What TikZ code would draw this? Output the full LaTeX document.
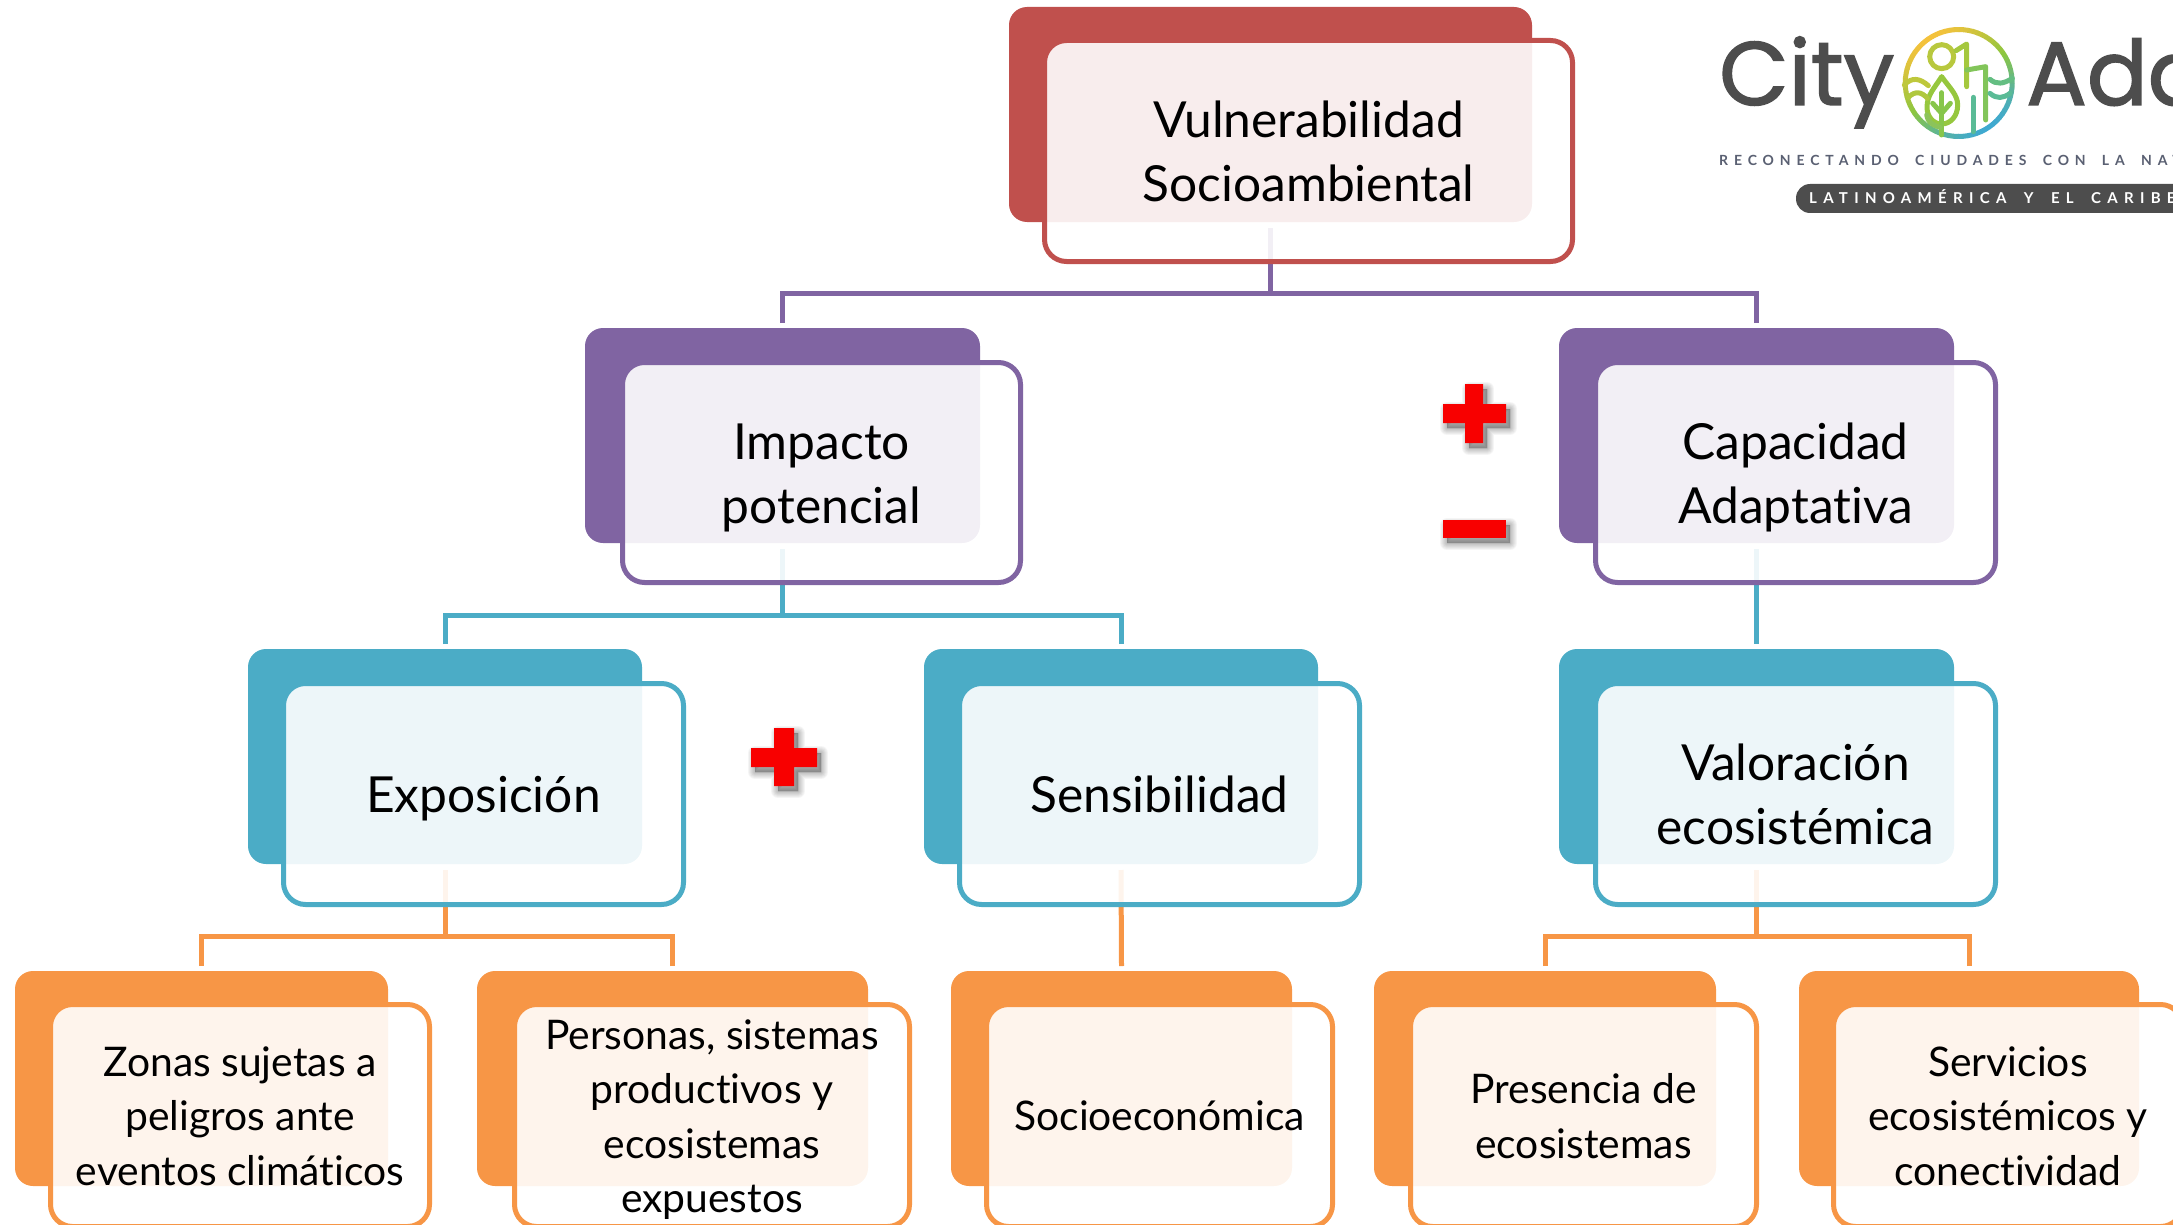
\documentclass[tikz,border=0pt]{standalone}
\usepackage{fontspec}
\setmainfont[Ligatures=NoCommon]{Lato}
\newfontfamily\cityfont[FakeBold=1.6]{Poppins}
\newfontfamily\tagfont[LetterSpace=42,WordSpace=1.75]{Lato Bold}
\usetikzlibrary{calc}
\pgfdeclarelayer{bg}
\pgfsetlayers{bg,main}
\definecolor{cardred}{HTML}{C0504D}
\definecolor{cardpurple}{HTML}{8064A2}
\definecolor{cardteal}{HTML}{4BACC6}
\definecolor{cardorange}{HTML}{F79646}
\definecolor{logogrey}{HTML}{4D4D4D}
\definecolor{tagline}{HTML}{5A6072}
\definecolor{ringyellow}{HTML}{F4C23C}
\definecolor{ringgreen}{HTML}{8CC63F}
\definecolor{ringblue}{HTML}{3FA9D0}
\definecolor{signred}{HTML}{F80000}
\definecolor{emhead}{RGB}{184,200,62}
\definecolor{embuildA}{RGB}{165,200,62}
\definecolor{embuildB}{RGB}{130,197,90}
\definecolor{embuildC}{RGB}{90,187,150}
\definecolor{emleaf}{RGB}{150,199,62}
\definecolor{emtrunk}{RGB}{135,198,75}
\definecolor{emwaveA}{RGB}{190,200,60}
\definecolor{emwaveB}{RGB}{175,200,62}
\definecolor{emarc}{RGB}{140,195,90}
\definecolor{emwaveC}{RGB}{100,190,130}
\tikzset{
  backcard/.style={rectangle,rounded corners=18pt,inner sep=0pt,outer sep=0pt},
  frontcard/.style={rectangle,rounded corners=22pt,line width=5pt,fill=white,fill opacity=0.9,inner sep=0pt,outer sep=0pt},
  bigtext/.style={align=center,inner sep=0pt,text=black,font=\fontsize{49.7}{64}\selectfont},
  smalltext/.style={align=center,inner sep=0pt,text=black,font=\fontsize{40.8}{54.5}\selectfont},
  link/.style={draw=#1,line width=5pt},
  signfill/.style={fill=signred},
  signshade/.style={draw=black,fill=black,opacity=0.04,line join=round,line width=#1},
  logoline/.style={line width=5pt,line cap=round,line join=round,draw=#1},
}
\newcommand{\rowspec}[6]{\def\dyT{#1}\def\dyB{#2}\def\oyT{#3}\def\oyB{#4}\def\tyC{#5}\def\cardfont{#6}}
\newcommand{\cardnode}[7]{%
  \node[backcard,fill=#2,minimum width={(#4-#3)*1pt},minimum height={(\dyB-\dyT)*1pt}] (#1D) at ({(#3+#4)/2},{(\dyT+\dyB)/2}) {};
  \node[frontcard,draw=#2,minimum width={(#6-#5-5)*1pt},minimum height={(\oyB-\oyT-5)*1pt}] (#1O) at ({(#5+#6)/2},{(\oyT+\oyB)/2}) {};
  \node[\cardfont] (#1T) at ({(#5+#6)/2},\tyC) {#7};
}
\newcommand{\signmark}[1]{%
  \foreach \w in {14pt,12pt,10pt,8pt,6pt,4pt,2pt,0.5pt}{\path[signshade=\w,shift={(4,5)}] #1;}
  \path[signfill] #1;
}
\begin{document}
\begin{tikzpicture}[x=1pt,y=-1pt]
\useasboundingbox (0,0) rectangle (2173,1225);
\clip (0,0) rectangle (2173,1225);

% cards
\rowspec{7}{222}{38}{264}{157}{bigtext}
\cardnode{vuln}{cardred}{1009}{1532}{1042}{1575}{\strut Vulnerabilidad\\\strut Socioambiental}
\rowspec{328}{543}{360}{585}{479}{bigtext}
\cardnode{imp}{cardpurple}{585}{980}{620}{1023}{\strut Impacto\\\strut potencial}
\cardnode{cap}{cardpurple}{1559}{1954}{1593}{1998}{\strut Capacidad\\\strut Adaptativa}
\rowspec{649}{864}{681}{907}{799.5}{bigtext}
\cardnode{expo}{cardteal}{248}{642}{281}{686}{\strut Exposición}
\cardnode{sens}{cardteal}{924}{1318}{957}{1362}{\strut Sensibilidad}
\cardnode{valo}{cardteal}{1559}{1954}{1593}{1998}{\strut Valoración\\\strut ecosistémica}
\rowspec{971}{1186}{1002}{1229}{1120}{smalltext}
\cardnode{zona}{cardorange}{15}{388}{48}{432}{\strut Zonas sujetas a\\\strut peligros ante\\\strut eventos climáticos}
\cardnode{pers}{cardorange}{477}{868}{512}{912}{\strut Personas, sistemas\\\strut productivos y\\\strut ecosistemas\\\strut expuestos}
\cardnode{soci}{cardorange}{951}{1292}{984}{1335}{\strut Socioeconómica}
\cardnode{pres}{cardorange}{1374}{1716}{1408}{1759}{\strut Presencia de\\\strut ecosistemas}
\cardnode{serv}{cardorange}{1799}{2139}{1831}{2185}{\strut Servicios\\\strut ecosistémicos y\\\strut conectividad}

% connectors
\begin{pgfonlayer}{bg}
\coordinate (barA) at (vulnD.south |- 0,293);
\coordinate (barB) at (impD.south |- 0,615);
\coordinate (barC) at (expoD.south |- 0,936);
\coordinate (barD) at (valoD.south |- 0,936);
\draw[link=cardpurple] ([yshift=-6pt]vulnD.south) -- (barA);
\draw[link=cardpurple] ([yshift=5pt]impD.north) |- (barA);
\draw[link=cardpurple] ([yshift=5pt]capD.north) |- (barA);
\draw[link=cardteal] ([yshift=-6pt]impD.south) -- (barB);
\draw[link=cardteal] ([yshift=5pt]expoD.north) |- (barB);
\draw[link=cardteal] ([yshift=5pt]sensD.north) |- (barB);
\draw[link=cardteal] ([yshift=-6pt]capD.south) -- ([yshift=5pt]valoD.north);
\draw[link=cardorange] ([yshift=-6pt]expoD.south) -- (barC);
\draw[link=cardorange] ([yshift=5pt]zonaD.north) |- (barC);
\draw[link=cardorange] ([yshift=5pt]persD.north) |- (barC);
\draw[link=cardorange] ([yshift=-6pt]sensD.south) -- ([yshift=5pt]sociD.north);
\draw[link=cardorange] ([yshift=-6pt]valoD.south) -- (barD);
\draw[link=cardorange] ([yshift=5pt]presD.north) |- (barD);
\draw[link=cardorange] ([yshift=5pt]servD.north) |- (barD);
\end{pgfonlayer}

% signs
\signmark{(1465,384) -- (1483,384) -- (1483,404) -- (1506,404) -- (1506,423) -- (1483,423) -- (1483,443) -- (1465,443) -- (1465,423) -- (1443,423) -- (1443,404) -- (1465,404) -- cycle}
\signmark{(1443,520) -- (1506,520) -- (1506,538) -- (1443,538) -- cycle}
\signmark{(774,728) -- (794,728) -- (794,748) -- (817,748) -- (817,767) -- (794,767) -- (794,786) -- (774,786) -- (774,767) -- (751,767) -- (751,748) -- (774,748) -- cycle}

% logo
\node[anchor=base west,inner sep=0pt,text=logogrey,font=\fontsize{90}{90}\selectfont\cityfont] (cityword) at (1719,105) {City};
\node[anchor=base west,inner sep=0pt,text=logogrey,font=\fontsize{90}{90}\selectfont\cityfont] (adaword) at (2026,105) {Ada};
\node[anchor=base west,inner sep=0pt,text=tagline,font=\fontsize{14}{14}\selectfont\tagfont] (tagone) at (1719,166) {RECONECTANDO CIUDADES CON LA NATU};
\fill[logogrey,rounded corners=14pt] (1796,184) rectangle (2230,213);
\node[anchor=base west,inner sep=0pt,text=white,font=\fontsize{15}{15}\selectfont\tagfont] (tagtwo) at (1809,204) {LATINOAMÉRICA Y EL CARIBE};
% emblem ring
\foreach \a in {0,5,...,355}{
  \pgfmathsetmacro\tv{cos(\a-55)}
  \pgfmathsetmacro\mx{abs(\tv)*100}
  \pgfmathparse{\tv<0?1:0}
  \ifdim\pgfmathresult pt>0.5pt \colorlet{segc}{ringyellow!\mx!ringgreen}\else\colorlet{segc}{ringblue!\mx!ringgreen}\fi
  \draw[line width=5pt,segc] (1958.7,83) ++(\a:53.5) arc[start angle=\a,end angle=\a+5.6,radius=53.5];
}
% emblem drawing, in a local frame of 1/3 pixel
\begin{scope}[shift={(1895,20)},x=0.3333pt,y=-0.3333pt]
  \draw[logoline=emhead] (140,110) circle (36);
  \draw[logoline=embuildA] (183,92) -- (215,72) -- (215,200);
  \draw[logoline=embuildB] (215,150) -- (272,140) -- (272,300);
  \draw[logoline=embuildC] (235,232) -- (235,335);
  \draw[logoline=emleaf] (140,170) .. controls (118,205) and (96,225) .. (96,262) .. controls (96,290) and (115,312) .. (140,312) .. controls (165,312) and (188,290) .. (188,255) .. controls (188,225) and (165,205) .. (140,170) -- cycle;
  \draw[logoline=emtrunk] (140,218) -- (140,345);
  \draw[logoline=emtrunk] (113,250) -- (140,280) -- (166,250);
  \draw[logoline=emwaveA] (28,195) .. controls (50,170) and (75,175) .. (100,197);
  \draw[logoline=emwaveB] (40,232) .. controls (60,212) and (80,215) .. (97,235);
  \draw[logoline=emarc] (95,285) .. controls (98,305) and (110,315) .. (135,322);
  \draw[logoline=emwaveC] (285,178) .. controls (305,195) and (325,192) .. (352,175);
  \draw[logoline=embuildC] (285,220) .. controls (305,238) and (325,235) .. (345,220);
\end{scope}
\end{tikzpicture}
\end{document}
